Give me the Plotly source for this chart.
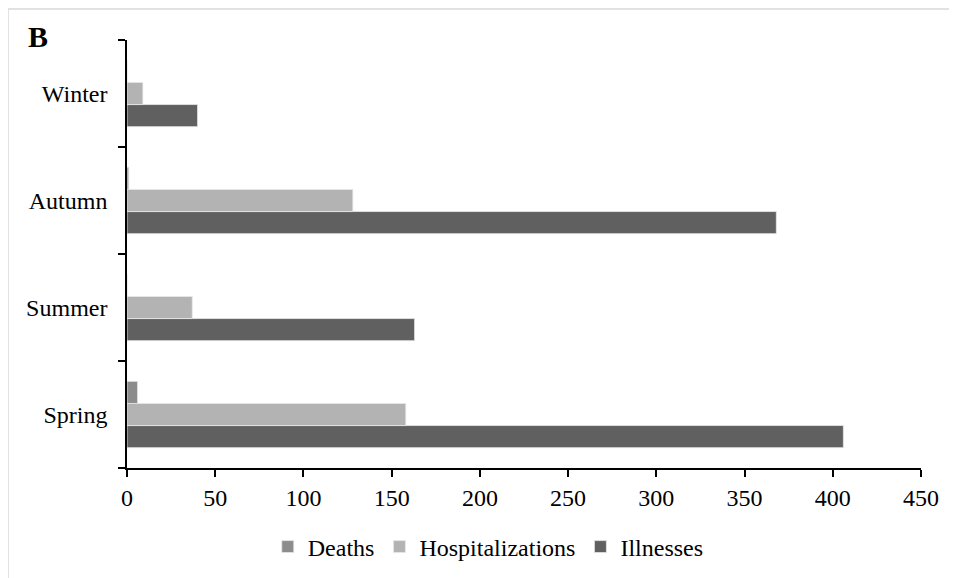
import plotly.graph_objects as go

seasons = ["Spring", "Summer", "Autumn", "Winter"]
illnesses = [406, 163, 368, 40]
hospitalizations = [158, 37, 128, 9]
deaths = [6, 0, 1, 0]
x_ticks = [0, 50, 100, 150, 200, 250, 300, 350, 400, 450]

# figure box (page has an 8px body margin)
W, H = 949, 570
L, R, T, B = 119, 36, 32, 110

fig = go.Figure()
fig.add_trace(go.Bar(y=seasons, x=illnesses, name="Illnesses", orientation="h",
                     marker=dict(color="#606060", line=dict(color="#e8e8e8", width=0.8))))
fig.add_trace(go.Bar(y=seasons, x=hospitalizations, name="Hospitalizations", orientation="h",
                     marker=dict(color="#b3b3b3", line=dict(color="#e8e8e8", width=0.8))))
fig.add_trace(go.Bar(y=seasons, x=deaths, name="Deaths", orientation="h",
                     marker=dict(color="#8c8c8c", line=dict(color="#e8e8e8", width=0.8))))

pw = W - L - R
ph = H - T - B
fig.update_layout(
    width=W, height=H,
    margin=dict(l=L, r=R, t=T, b=B, autoexpand=False),
    paper_bgcolor="white", plot_bgcolor="white",
    barmode="group", bargap=0.38, bargroupgap=0,
    font=dict(family="Liberation Serif, Times New Roman, serif", size=24, color="black"),
    legend=dict(orientation="h", traceorder="reversed", x=0.455, xanchor="center",
                y=-(547 - 468) / ph, yanchor="middle", font=dict(size=24), itemwidth=30),
    showlegend=True,
)
fig.update_xaxes(range=[0, 450], tickvals=x_ticks, ticks="outside", ticklen=7,
                 tickwidth=1.5, tickcolor="black", showline=True, linecolor="black",
                 linewidth=1.5, showgrid=False, zeroline=False)
fig.update_yaxes(categoryorder="array", categoryarray=seasons, ticks="outside",
                 tickson="boundaries", ticklen=7, tickwidth=1.5, tickcolor="black",
                 showline=True, linecolor="black", linewidth=1.5, showgrid=False,
                 ticklabelstandoff=13)

fig.add_annotation(text="<b>B</b>", xref="paper", yref="paper",
                   x=(18 - L) / pw, y=(H - B - 28) / ph, xanchor="left", yanchor="middle",
                   showarrow=False, font=dict(size=30))

fig.add_shape(type="rect", xref="paper", yref="paper",
              x0=(0 - L) / pw, x1=(W + 5 - L) / pw,
              y0=(-B - 5) / ph, y1=(H - B - 1) / ph,
              line=dict(color="#d9d9d9", width=1.5), fillcolor="rgba(0,0,0,0)", layer="below")

fig.write_html("out.html")
